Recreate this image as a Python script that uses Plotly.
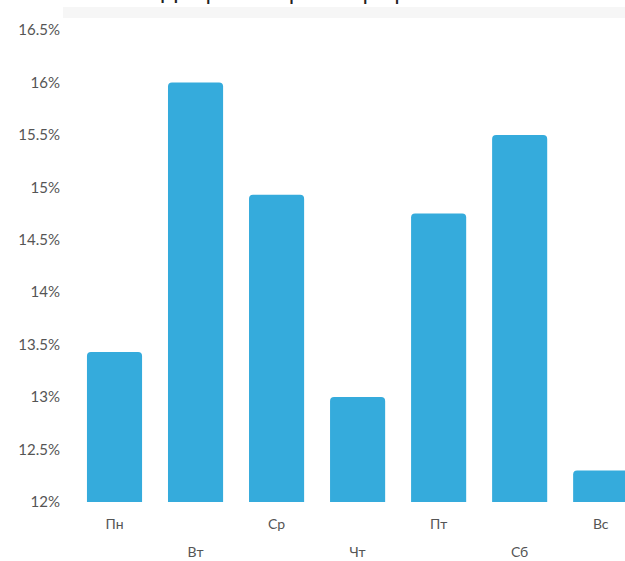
import plotly.graph_objects as go

# Share of activity by day of week, %
days = ["Пн", "Вт", "Ср", "Чт", "Пт", "Сб", "Вс"]
shares = [13.43, 16.0, 14.93, 13.0, 14.75, 15.5, 12.3]
y_ticks = [12, 12.5, 13, 13.5, 14, 14.5, 15, 15.5, 16, 16.5]
y_tick_text = ["12%", "12.5%", "13%", "13.5%", "14%", "14.5%", "15%", "15.5%", "16%", "16.5%"]

positions = list(range(len(days)))
# labels alternate between two rows
upper_pos = positions[0::2]
upper_text = days[0::2]
lower_pos = positions[1::2]
lower_text = days[1::2]

bar_color = "#35abdc"
y_font = dict(family="Lato, 'Open Sans', sans-serif", size=15, color="#555555")
x_font = dict(family="Lato, 'Open Sans', sans-serif", size=14, color="#555555")

fig = go.Figure(
    go.Bar(
        x=positions,
        y=shares,
        base=0,
        marker=dict(color=bar_color, line=dict(width=0), cornerradius=4),
        width=0.68,
        hoverinfo="skip",
    )
)

x_common = dict(
    range=[-0.5, 6.30],
    tickmode="array",
    showgrid=False,
    zeroline=False,
    showline=False,
    ticks="",
    tickfont=x_font,
    fixedrange=True,
    automargin=False,
)

fig.update_layout(
    width=625,
    height=561,
    margin=dict(l=74, r=0, t=30, b=59),
    paper_bgcolor="white",
    plot_bgcolor="white",
    showlegend=False,
    xaxis=dict(x_common, tickvals=upper_pos, ticktext=upper_text, ticklabelstandoff=12),
    xaxis2=dict(
        x_common, tickvals=lower_pos, ticktext=lower_text,
        overlaying="x", side="bottom", anchor="y", ticklabelstandoff=40,
    ),
    yaxis=dict(
        range=[12, 16.5],
        tickmode="array",
        tickvals=y_ticks,
        ticktext=y_tick_text,
        showgrid=False,
        zeroline=False,
        showline=False,
        ticks="",
        ticklabelstandoff=13,
        tickfont=y_font,
        fixedrange=True,
        automargin=False,
    ),
    shapes=[
        dict(
            type="rect", xref="paper", yref="paper",
            x0=-0.02, x1=1.0, y0=1 + 12 / 472, y1=1 + 23 / 472,
            fillcolor="#f6f6f6", line=dict(width=0), layer="below",
        )
    ],
    annotations=[
        dict(
            text="Джерело: сервіс Poptop.ua",
            xref="paper", yref="paper",
            x=(299 - 74) / 551, y=1 + 24 / 472,
            xanchor="center", yanchor="bottom",
            showarrow=False,
            font=dict(family="Roboto, sans-serif", size=22, color="#222222"),
        )
    ],
)

# invisible trace to bring the second label axis into the figure
fig.add_trace(go.Scatter(x=[0], y=[12], xaxis="x2", mode="markers",
                         marker=dict(opacity=0), hoverinfo="skip"))

fig.write_html("out.html")
